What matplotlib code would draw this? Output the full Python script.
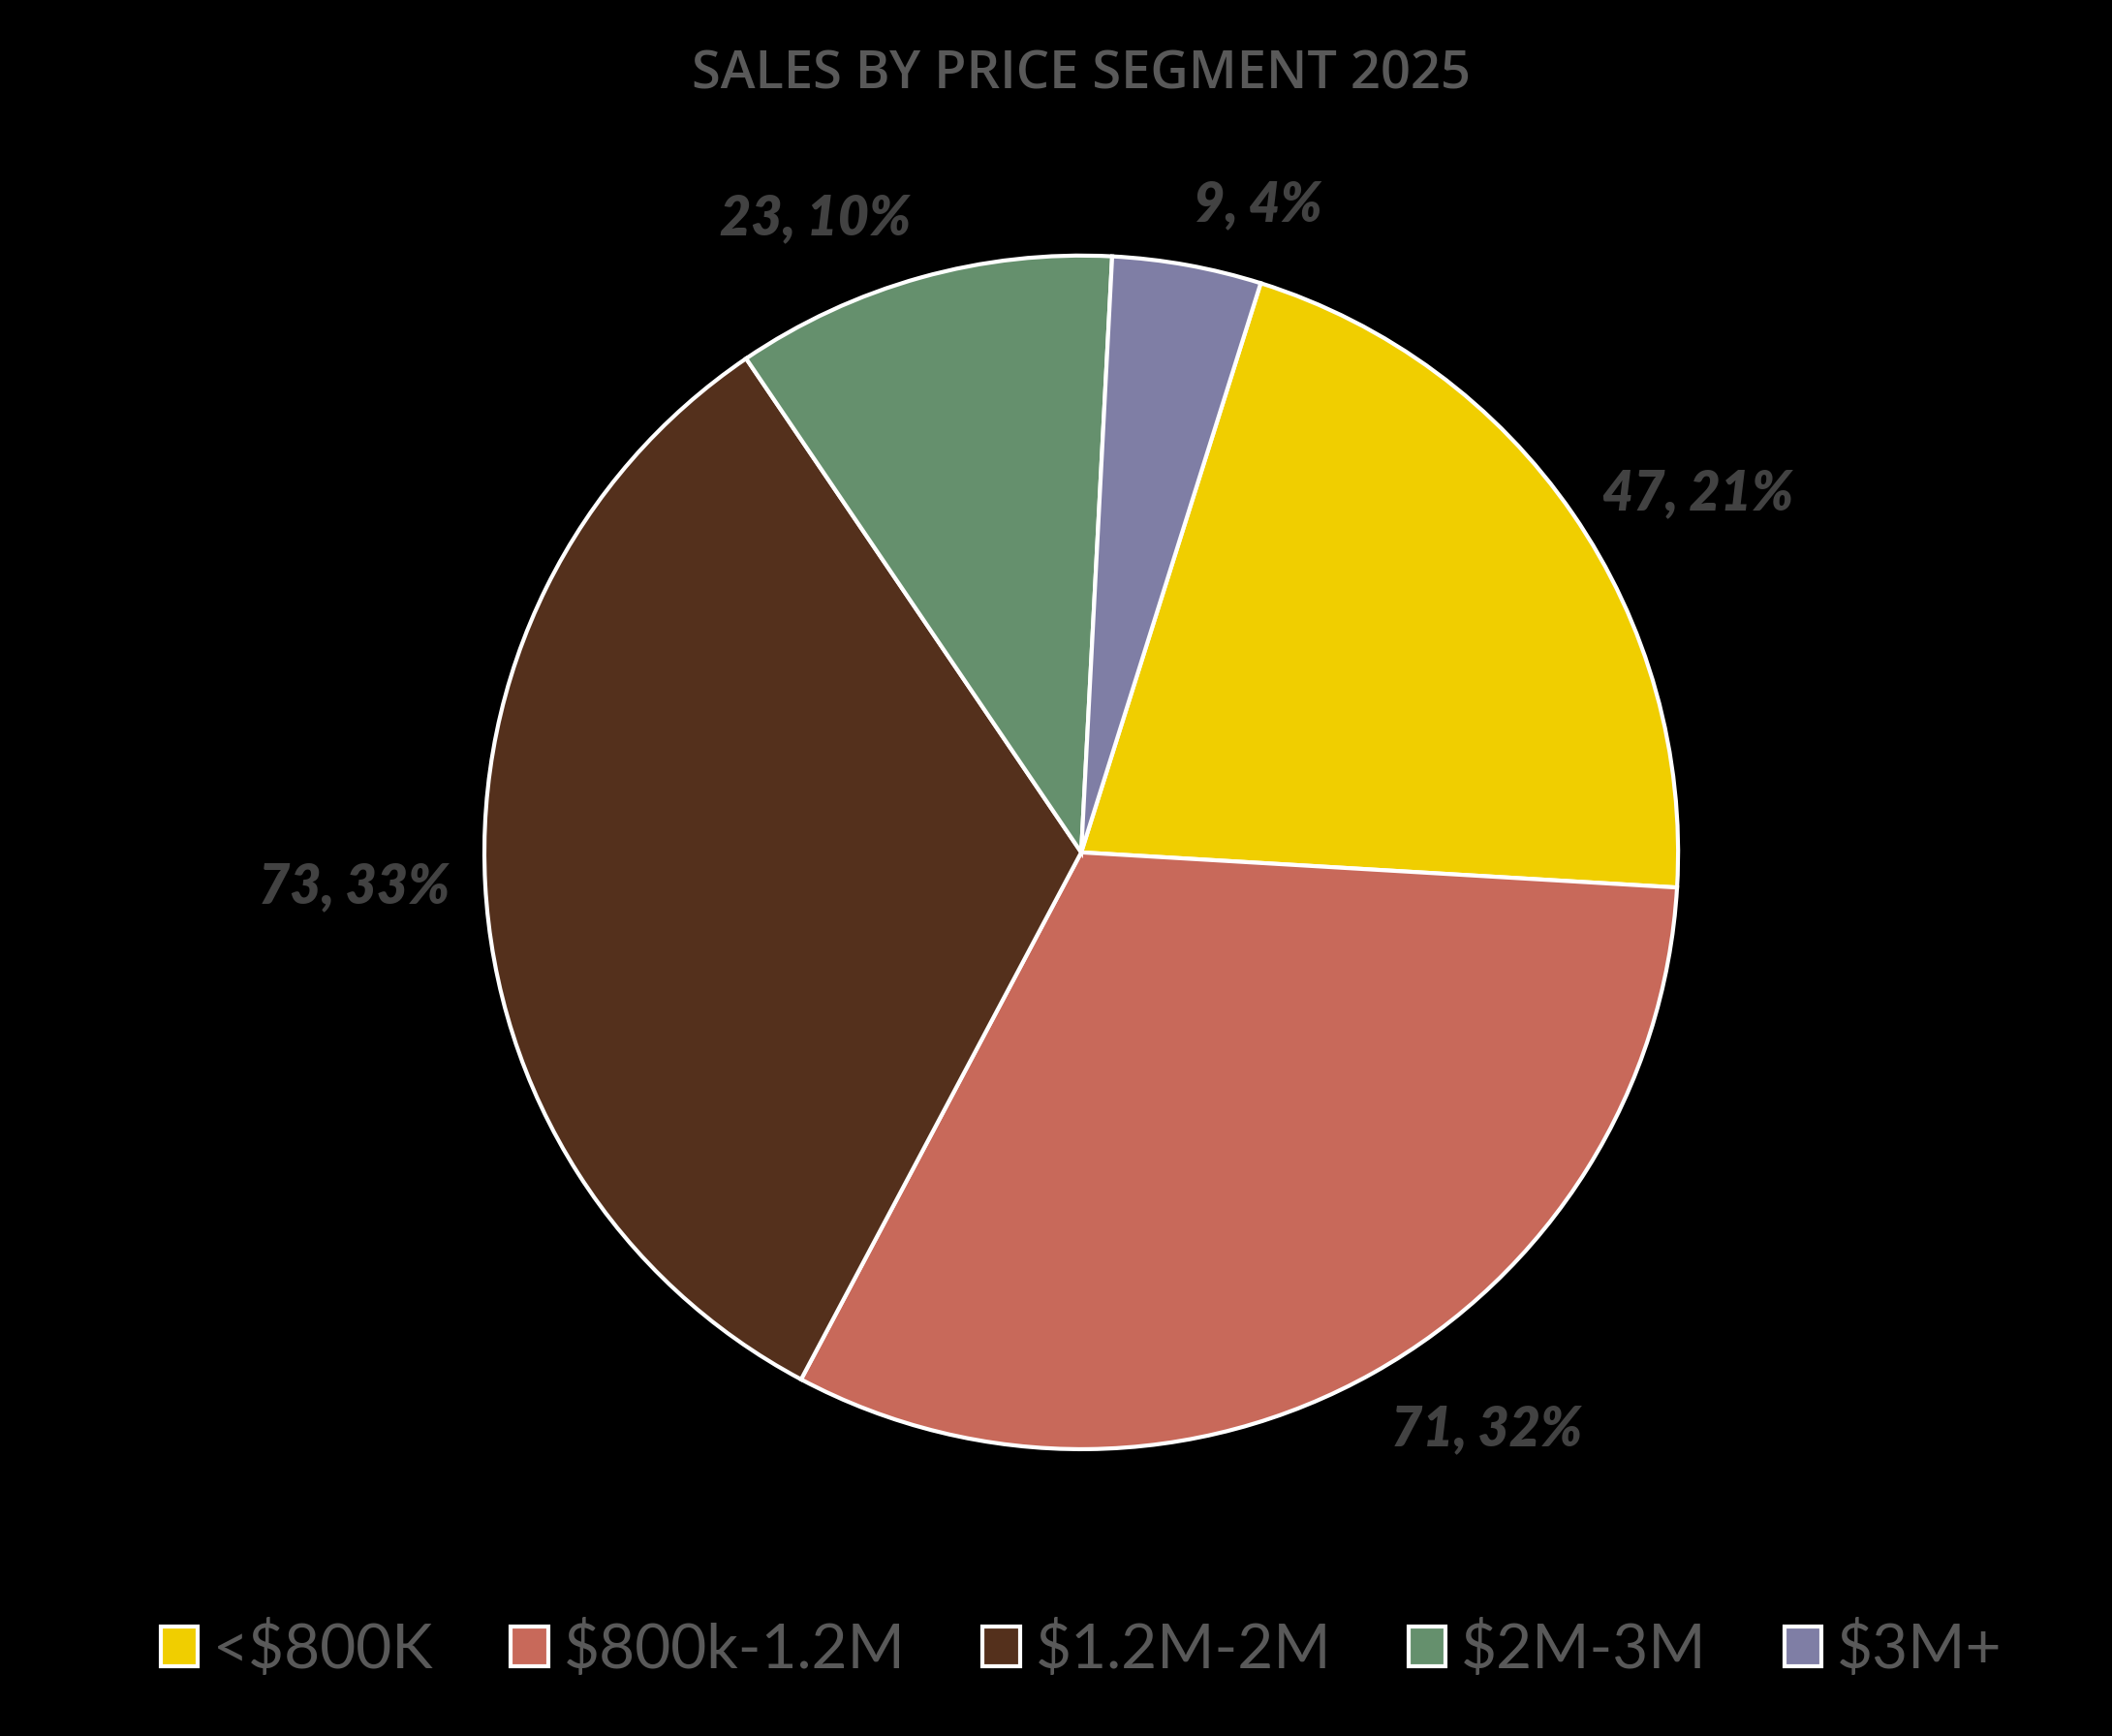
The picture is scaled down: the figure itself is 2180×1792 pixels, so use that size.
import numpy as np
import matplotlib.pyplot as plt
from matplotlib.patches import Patch

segments = ['<$800K', '$800k-1.2M', '$1.2M-2M', '$2M-3M', '$3M+']
sales = [47, 71, 73, 23, 9]
colors = ['#F0CE00', '#C8695A', '#54301C', '#65906D', '#7F7EA5']

fig = plt.figure(figsize=(21.8, 17.92), dpi=100, facecolor='black')
ax = fig.add_axes([0.1163, 0.0277, 0.7913, 0.9626])
ax.set_facecolor('black')

wedges, _ = ax.pie(sales, colors=colors, startangle=72.5, counterclock=False,
                   wedgeprops=dict(edgecolor='white', linewidth=3))
ax.set_xlim(-1.4, 1.4)
ax.set_ylim(-1.4, 1.4)
ax.set_aspect('equal')
ax.axis('off')

total = sum(sales)
for w, v in zip(wedges, sales):
    theta = np.deg2rad((w.theta1 + w.theta2) / 2)
    x, y = np.cos(theta), np.sin(theta)
    ha = 'left' if x > 0 else 'right'
    va = 'bottom' if y > 0.6 else ('top' if y < -0.6 else 'center')
    ax.text(1.06 * x, 1.06 * y, f'{v}, {round(100 * v / total)}%', ha=ha, va=va,
            fontsize=40, fontweight='heavy', fontstyle='italic', color='#424242',
            family=['Lato', 'DejaVu Sans'])

fig.text(0.512, 1 - 78 / 1792, 'SALES BY PRICE SEGMENT 2025', ha='center', va='center',
         fontsize=39, fontweight='semibold', color='#595959',
         family=['Open Sans', 'DejaVu Sans'])

handles = [Patch(facecolor=c, edgecolor='white', linewidth=3) for c in colors]
leg = fig.legend(handles, segments, loc='center', bbox_to_anchor=(0.512, 1 - 1703 / 1792),
                 ncol=5, frameon=False, handlelength=0.6, handleheight=0.6,
                 handletextpad=0.25, columnspacing=1.25, labelcolor='#595959',
                 prop=dict(family=['Lato', 'DejaVu Sans'], size=46))

fig.savefig('out.png', dpi=100, facecolor='black')
